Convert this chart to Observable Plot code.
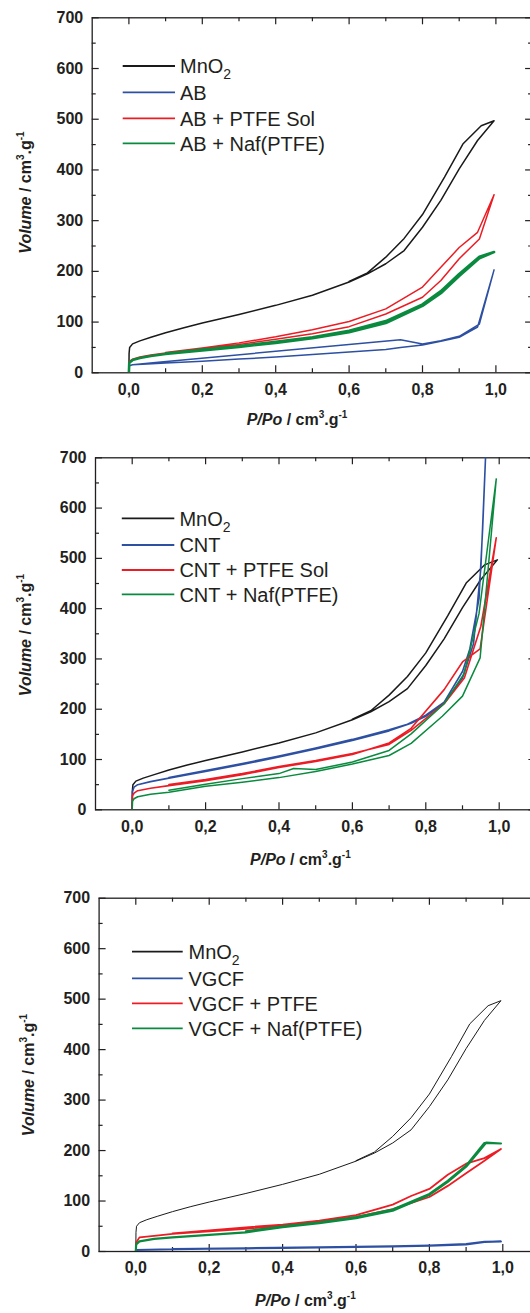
<!DOCTYPE html>
<html><head><meta charset="utf-8">
<script src="https://cdn.jsdelivr.net/npm/d3@7"></script>
<script src="https://cdn.jsdelivr.net/npm/@observablehq/plot@0.6"></script>
<style>
html,body{margin:0;padding:0;background:#fff;overflow:hidden;}
#chart{position:relative;width:530px;height:1313px;overflow:hidden;background:#fff;}
.panel{position:absolute;left:0;width:545px;}
.panel svg{max-width:none !important;}
</style></head><body><div id="chart"></div>
<script>
// ---------- tick values ----------
const xMajorTicks = [0, 0.2, 0.4, 0.6, 0.8, 1.0];
const xMinorTicks = [0.1, 0.3, 0.5, 0.7, 0.9];
const yMajorTicks = [0, 100, 200, 300, 400, 500, 600, 700];
const yMinorTicks = [50, 150, 250, 350, 450, 550, 650];

// ---------- series names ----------
const abNames = ["MnO2", "AB", "AB + PTFE Sol", "AB + Naf(PTFE)"];
const cntNames = ["MnO2", "CNT", "CNT + PTFE Sol", "CNT + Naf(PTFE)"];
const vgcfNames = ["MnO2", "VGCF", "VGCF + PTFE", "VGCF + Naf(PTFE)"];

// ---------- isotherms [P/Po, volume] : adsorption then desorption ----------
const mno2Iso = [[0,0],[0.0005,38],[0.002,50],[0.01,57],[0.03,63],[0.06,70],[0.1,79],[0.15,89],[0.2,98],[0.3,115],[0.4,133],[0.5,153],[0.6,179],[0.65,195],[0.7,215],[0.75,241],[0.8,287],[0.85,340],[0.9,402],[0.95,458],[0.995,497],[0.96,487],[0.91,451],[0.86,386],[0.8,312],[0.75,265],[0.7,228],[0.65,197],[0.6,180]];

const abIso = [[0,0],[0.001,14],[0.01,16],[0.05,17.5],[0.1,19.5],[0.2,23],[0.3,27],[0.4,31],[0.5,36],[0.6,41],[0.7,46],[0.74,50],[0.8,55],[0.85,62],[0.9,70],[0.95,90],[0.995,203],[0.955,96],[0.9,72],[0.85,63],[0.8,57],[0.74,65],[0.08,21],[0.01,16]];
const abPtfeIso = [[0,0],[0.001,22],[0.01,27],[0.03,31],[0.06,35],[0.1,39],[0.2,47],[0.3,56],[0.4,66],[0.5,77],[0.6,91],[0.7,116],[0.8,149],[0.85,182],[0.9,225],[0.955,264],[0.995,351],[0.95,277],[0.9,247],[0.85,208],[0.8,169],[0.7,126],[0.6,101],[0.5,85],[0.4,71],[0.3,59],[0.2,49],[0.1,40]];
const abNafIso = [[0,0],[0.001,20],[0.01,25],[0.03,29],[0.06,33],[0.1,37],[0.2,44],[0.3,51],[0.4,59],[0.5,68],[0.6,80],[0.7,98],[0.8,132],[0.85,157],[0.9,191],[0.955,226],[0.995,238],[0.955,229],[0.9,195],[0.85,161],[0.8,135],[0.7,102],[0.6,83],[0.5,70],[0.4,61],[0.3,53],[0.2,46],[0.1,38]];

const cntIso = [[0,0],[0.0005,36],[0.005,45],[0.015,50],[0.05,56],[0.1,63],[0.2,76],[0.3,90],[0.4,105],[0.5,121],[0.6,138],[0.7,157],[0.76,172],[0.8,186],[0.85,212],[0.9,262],[0.93,330],[0.95,480],[0.963,705],[0.955,560],[0.945,420],[0.92,320],[0.9,275],[0.85,214],[0.8,188],[0.75,170],[0.7,159],[0.6,140],[0.5,123],[0.4,107],[0.3,92],[0.2,78],[0.1,64]];
const cntPtfeIso = [[0,0],[0.0005,28],[0.005,33],[0.015,38],[0.05,43],[0.1,48],[0.2,58],[0.3,70],[0.4,84],[0.5,96],[0.6,110],[0.7,133],[0.76,162],[0.85,239],[0.9,294],[0.948,320],[0.992,541],[0.95,365],[0.905,262],[0.85,211],[0.76,158],[0.7,130],[0.6,112],[0.5,98],[0.4,86],[0.3,72],[0.2,60],[0.1,50]];
const cntNafIso = [[0,0],[0.0005,17],[0.005,22],[0.015,26],[0.05,31],[0.1,35],[0.2,47],[0.3,55],[0.4,64],[0.5,76],[0.6,91],[0.7,108],[0.76,132],[0.845,186],[0.9,226],[0.948,302],[0.992,658],[0.945,390],[0.904,270],[0.85,211],[0.76,151],[0.7,118],[0.6,95],[0.5,80],[0.44,82],[0.4,72],[0.3,62],[0.2,51],[0.1,39]];

const vgcfIso = [[0,0],[0.001,3],[0.1,4.5],[0.2,5.2],[0.3,6],[0.4,7],[0.5,8],[0.6,9],[0.7,10],[0.8,11.5],[0.9,14],[0.95,19],[0.995,20],[0.95,19.5],[0.9,15],[0.8,12],[0.7,10.5],[0.5,8.5],[0.3,6.5],[0.1,5]];
const vgcfPtfeIso = [[0,0],[0.001,18],[0.01,28],[0.05,31],[0.1,35],[0.2,40],[0.3,45],[0.4,51],[0.5,58],[0.6,68],[0.7,84],[0.8,108],[0.85,130],[0.9,155],[0.95,180],[0.995,203],[0.95,185],[0.9,174],[0.85,152],[0.8,124],[0.75,110],[0.7,93],[0.6,72],[0.5,61],[0.4,53],[0.3,48],[0.2,42],[0.1,36]];
const vgcfNafIso = [[0,0],[0.001,14],[0.01,20],[0.05,25],[0.1,28],[0.2,33],[0.3,38],[0.4,48],[0.5,56],[0.6,66],[0.7,81],[0.8,112],[0.85,138],[0.9,168],[0.955,216],[0.995,214],[0.95,215],[0.9,170],[0.85,140],[0.8,114],[0.7,83],[0.6,68],[0.5,58],[0.4,50],[0.3,40]];

// ---------- styles ----------
const colors = ["#1a1a1a", "#2d50a2", "#ec1c24", "#0a8a3e"];
const ink = "#231f20";
const FONT = "'Liberation Sans', Arial, Helvetica, sans-serif";

const panels = [
  {top: 0, height: 440, mL: 91.7, mT: 17.3, mB: 67.7, names: abNames,
   series: [mno2Iso, abIso, abPtfeIso, abNafIso], widths: [1.5, 1.5, 1.5, 2.6],
   leg: {x1: 122.7, x2: 175, tx: 180, rows: [66, 92.3, 118.3, 143.3]},
   ylab: {x: 31, y: 192.5}, xlab: {x: 297, y: 425}},
  {top: 440, height: 430, mL: 95, mT: 17.3, mB: 60.7, names: cntNames,
   series: [mno2Iso, cntIso, cntPtfeIso, cntNafIso], widths: [1.5, 1.6, 1.6, 1.5],
   leg: {x1: 121.8, x2: 174.3, tx: 179.4, rows: [78.3, 105, 130, 154.3]},
   ylab: {x: 30.5, y: 195}, xlab: {x: 300.4, y: 425}},
  {top: 870, height: 443, mL: 98.6, mT: 27.7, mB: 62, names: vgcfNames,
   series: [mno2Iso, vgcfIso, vgcfPtfeIso, vgcfNafIso], widths: [1, 2, 1.8, 2.2],
   leg: {x1: 132, x2: 182.7, tx: 188.5, rows: [81.7, 108.3, 133.3, 158.3]},
   ylab: {x: 34, y: 205}, xlab: {x: 305.4, y: 436}}
];

const fmtX = d => d.toFixed(1).replace(".", ",");
const chart = document.getElementById("chart");
const innerW = 440.4; // px for the x domain [-0.1, 1.1]

function addRich(sel, parts) {
  parts.forEach(p => {
    const t = sel.append("tspan").text(p.t);
    if (p.i) t.attr("font-style", "italic");
    if (p.sup) t.attr("font-size", 10).attr("dy", -7);
    if (p.back) t.attr("dy", 7);
  });
}

panels.forEach(p => {
  const width = 545;
  const innerH = p.height - p.mT - p.mB;
  const marks = [];
  marks.push(Plot.frame({stroke: ink, strokeWidth: 1.3}));
  // inward ticks
  marks.push(Plot.tickX(xMajorTicks, {x: d => d, insetTop: innerH - 7, stroke: ink, strokeWidth: 1.2}));
  marks.push(Plot.tickX(xMajorTicks, {x: d => d, insetBottom: innerH - 7, stroke: ink, strokeWidth: 1.2}));
  marks.push(Plot.tickX(xMinorTicks, {x: d => d, insetTop: innerH - 4, stroke: ink, strokeWidth: 1.2}));
  marks.push(Plot.tickX(xMinorTicks, {x: d => d, insetBottom: innerH - 4, stroke: ink, strokeWidth: 1.2}));
  marks.push(Plot.tickY(yMajorTicks, {y: d => d, insetRight: innerW - 7, stroke: ink, strokeWidth: 1.2}));
  marks.push(Plot.tickY(yMajorTicks, {y: d => d, insetLeft: innerW - 7, stroke: ink, strokeWidth: 1.2}));
  marks.push(Plot.tickY(yMinorTicks, {y: d => d, insetRight: innerW - 4, stroke: ink, strokeWidth: 1.2}));
  marks.push(Plot.tickY(yMinorTicks, {y: d => d, insetLeft: innerW - 4, stroke: ink, strokeWidth: 1.2}));
  marks.push(Plot.axisX(xMajorTicks, {tickSize: 0, tickPadding: 10.5, tickFormat: fmtX, fontSize: 16, fontWeight: "bold", fill: ink, label: null}));
  marks.push(Plot.axisY(yMajorTicks, {tickSize: 0, tickPadding: 9, fontSize: 16, fontWeight: "bold", fill: ink, label: null}));
  p.series.forEach((pts, i) => {
    marks.push(Plot.line(pts, {x: d => d[0], y: d => d[1], stroke: colors[i], strokeWidth: p.widths[i], clip: true, curve: "linear"}));
  });

  const svg = Plot.plot({
    width, height: p.height,
    marginLeft: p.mL, marginRight: width - p.mL - innerW, marginTop: p.mT, marginBottom: p.mB,
    x: {domain: [-0.1, 1.1], label: null},
    y: {domain: [0, 700], label: null},
    style: {fontFamily: FONT, background: "transparent", overflow: "visible", maxWidth: "none"},
    marks
  });
  const wrap = document.createElement("div");
  wrap.className = "panel";
  wrap.style.top = p.top + "px";
  wrap.appendChild(svg);
  chart.appendChild(wrap);

  const s = d3.select(svg);
  // legend
  const lg = s.append("g").attr("font-family", FONT).attr("font-size", 20).attr("fill", ink).attr("text-anchor", "start");
  p.names.forEach((name, i) => {
    const y = p.leg.rows[i];
    lg.append("line").attr("x1", p.leg.x1).attr("x2", p.leg.x2).attr("y1", y).attr("y2", y)
      .attr("stroke", colors[i]).attr("stroke-width", 1.8);
    const t = lg.append("text").attr("x", p.leg.tx).attr("y", y + 7.2);
    if (name === "MnO2") {
      t.append("tspan").text("MnO");
      t.append("tspan").text("2").attr("font-size", 14).attr("dy", 6);
    } else {
      t.text(name);
    }
  });
  // axis titles
  const yl = s.append("text").attr("font-family", FONT).attr("font-size", 16).attr("font-weight", "bold")
    .attr("fill", ink).attr("text-anchor", "middle")
    .attr("transform", `translate(${p.ylab.x},${p.ylab.y}) rotate(-90)`);
  addRich(yl, [{t: "Volume", i: true}, {t: " / cm"}, {t: "3", sup: true}, {t: ".g", back: true}, {t: "-1", sup: true}]);
  const xl = s.append("text").attr("font-family", FONT).attr("font-size", 16).attr("font-weight", "bold")
    .attr("fill", ink).attr("text-anchor", "middle")
    .attr("x", p.xlab.x).attr("y", p.xlab.y);
  addRich(xl, [{t: "P/Po", i: true}, {t: " / cm"}, {t: "3", sup: true}, {t: ".g", back: true}, {t: "-1", sup: true}]);
});
</script>
</body></html>
